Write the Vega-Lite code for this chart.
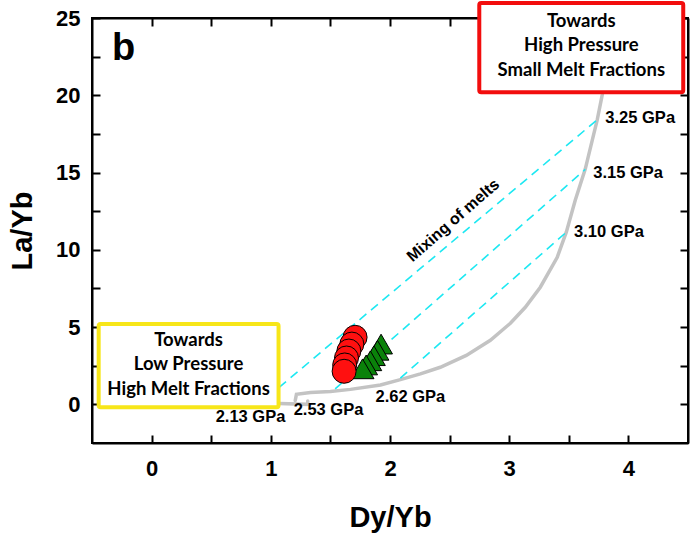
{
  "$schema": "https://vega.github.io/schema/vega-lite/v6.json",
  "width": 596,
  "height": 425,
  "autosize": "none",
  "padding": {"left": 92, "top": 18, "right": 6, "bottom": 91},
  "background": "white",
  "config": {
    "view": {"stroke": "black", "strokeWidth": 2},
    "axis": {
      "grid": false,
      "domainColor": "black",
      "domainWidth": 2,
      "labelFont": "Liberation Sans",
      "labelFontWeight": "bold",
      "labelFontSize": 22,
      "labelColor": "black",
      "titleFont": "Liberation Sans",
      "titleFontWeight": "bold",
      "titleFontSize": 29,
      "titleColor": "black"
    }
  },
  "data": {
    "values": [
      {"kind": "curve", "seg": 1, "i": 1, "x": 1.07, "y": 0.06},
      {"kind": "curve", "seg": 1, "i": 2, "x": 1.31, "y": 0.0},
      {"kind": "curve", "seg": 1, "i": 3, "x": 1.31, "y": 0.22},
      {"kind": "curve", "seg": 2, "i": 1, "x": 1.205, "y": 0.25},
      {"kind": "curve", "seg": 2, "i": 2, "x": 1.215, "y": 0.65},
      {"kind": "curve", "seg": 2, "i": 3, "x": 1.333, "y": 0.76},
      {"kind": "curve", "seg": 2, "i": 4, "x": 1.5, "y": 0.84},
      {"kind": "curve", "seg": 2, "i": 5, "x": 1.668, "y": 0.97},
      {"kind": "curve", "seg": 2, "i": 6, "x": 1.92, "y": 1.25},
      {"kind": "curve", "seg": 2, "i": 7, "x": 2.087, "y": 1.6},
      {"kind": "curve", "seg": 2, "i": 8, "x": 2.255, "y": 1.97},
      {"kind": "curve", "seg": 2, "i": 9, "x": 2.422, "y": 2.4},
      {"kind": "curve", "seg": 2, "i": 10, "x": 2.64, "y": 3.17},
      {"kind": "curve", "seg": 2, "i": 11, "x": 2.842, "y": 4.15},
      {"kind": "curve", "seg": 2, "i": 12, "x": 3.01, "y": 5.25},
      {"kind": "curve", "seg": 2, "i": 13, "x": 3.135, "y": 6.28},
      {"kind": "curve", "seg": 2, "i": 14, "x": 3.261, "y": 7.58},
      {"kind": "curve", "seg": 2, "i": 15, "x": 3.403, "y": 9.52},
      {"kind": "curve", "seg": 2, "i": 16, "x": 3.479, "y": 11.14},
      {"kind": "curve", "seg": 2, "i": 17, "x": 3.554, "y": 13.21},
      {"kind": "curve", "seg": 2, "i": 18, "x": 3.638, "y": 15.22},
      {"kind": "curve", "seg": 2, "i": 19, "x": 3.697, "y": 17.1},
      {"kind": "curve", "seg": 2, "i": 20, "x": 3.738, "y": 18.39},
      {"kind": "curve", "seg": 2, "i": 21, "x": 3.78, "y": 20.01},
      {"kind": "curve", "seg": 2, "i": 22, "x": 3.81, "y": 21.5},
      {"kind": "mixing", "seg": "A", "x": 1.07, "y": 1.1},
      {"kind": "mixing", "seg": "A", "x": 3.736, "y": 18.4},
      {"kind": "mixing", "seg": "B", "x": 1.54, "y": 1.0},
      {"kind": "mixing", "seg": "B", "x": 3.638, "y": 15.2},
      {"kind": "mixing", "seg": "C", "x": 2.087, "y": 1.7},
      {"kind": "mixing", "seg": "C", "x": 3.479, "y": 11.14},
      {"kind": "box", "seg": "high", "x": 2.749, "x2": 4.46, "y": 25.97, "y2": 20.2},
      {"kind": "box", "seg": "low", "x": -0.444, "x2": 1.065, "y": 5.2, "y2": -0.19},
      {"kind": "boxtext", "x": 3.605, "y": 24.8, "text": "Towards"},
      {"kind": "boxtext", "x": 3.605, "y": 23.25, "text": "High Pressure"},
      {"kind": "boxtext", "x": 3.605, "y": 21.65, "text": "Small Melt Fractions"},
      {"kind": "boxtext", "x": 0.31, "y": 4.15, "text": "Towards"},
      {"kind": "boxtext", "x": 0.31, "y": 2.6, "text": "Low Pressure"},
      {"kind": "boxtext", "x": 0.31, "y": 0.97, "text": "High Melt Fractions"},
      {"kind": "triangle", "x": 1.925, "y": 3.9},
      {"kind": "triangle", "x": 1.895, "y": 3.5},
      {"kind": "triangle", "x": 1.865, "y": 3.15},
      {"kind": "triangle", "x": 1.835, "y": 2.82},
      {"kind": "triangle", "x": 1.8, "y": 2.55},
      {"kind": "triangle", "x": 1.77, "y": 2.3},
      {"kind": "circle", "x": 1.707, "y": 4.34},
      {"kind": "circle", "x": 1.68, "y": 3.9},
      {"kind": "circle", "x": 1.655, "y": 3.45},
      {"kind": "circle", "x": 1.635, "y": 3.0},
      {"kind": "circle", "x": 1.62, "y": 2.55},
      {"kind": "circle", "x": 1.615, "y": 2.14},
      {"kind": "pressure", "x": 0.83, "y": -0.84, "text": "2.13 GPa"},
      {"kind": "pressure", "x": 1.484, "y": -0.39, "text": "2.53 GPa"},
      {"kind": "pressure", "x": 2.171, "y": 0.45, "text": "2.62 GPa"},
      {"kind": "pressure", "x": 4.099, "y": 18.5, "text": "3.25 GPa"},
      {"kind": "pressure", "x": 3.998, "y": 14.94, "text": "3.15 GPa"},
      {"kind": "pressure", "x": 3.837, "y": 11.16, "text": "3.10 GPa"},
      {"kind": "mixlabel", "x": 2.53, "y": 11.9, "text": "Mixing of melts"},
      {"kind": "panel", "x": -0.235, "y": 23.0, "text": "b"}
    ]
  },
  "layer": [
    {
      "transform": [{"filter": "datum.kind === 'curve'"}],
      "mark": {"type": "line", "color": "#c3c3c3", "strokeWidth": 3.5, "strokeCap": "round"},
      "encoding": {
        "x": {
          "field": "x", "type": "quantitative",
          "scale": {"domain": [-0.5, 4.5], "nice": false, "zero": false},
          "axis": {
            "orient": "bottom",
            "title": "Dy/Yb",
            "values": [0, 0.5, 1, 1.5, 2, 2.5, 3, 3.5, 4],
            "labelExpr": "datum.value % 1 === 0 ? format(datum.value, 'd') : ''",
            "tickColor": "black",
            "tickWidth": 2,
            "tickSize": -8,
            "labelPadding": 23,
            "titlePadding": 24
          }
        },
        "y": {
          "field": "y", "type": "quantitative",
          "scale": {"domain": [-2.5, 25], "nice": false, "zero": false},
          "axis": {
            "orient": "left",
            "title": "La/Yb",
            "values": [0, 2.5, 5, 7.5, 10, 12.5, 15, 17.5, 20, 22.5, 25],
            "labelExpr": "datum.value % 5 === 0 ? format(datum.value, 'd') : ''",
            "tickColor": "black",
            "tickWidth": 2,
            "tickSize": -8,
            "labelPadding": 20,
            "titlePadding": 18
          }
        },
        "detail": {"field": "seg"},
        "order": {"field": "i"}
      }
    },
    {
      "transform": [{"filter": "datum.kind === 'mixing'"}],
      "mark": {"type": "line", "color": "#1de8f2", "strokeWidth": 1.6, "strokeDash": [9, 6]},
      "encoding": {
        "x": {"field": "x", "type": "quantitative", "axis": {"orient": "top", "title": null, "labels": false, "tickColor": "black", "tickWidth": 2, "tickSize": -8, "values": [0, 0.5, 1, 1.5, 2, 2.5, 3, 3.5, 4]}},
        "y": {"field": "y", "type": "quantitative", "axis": {"orient": "right", "title": null, "labels": false, "tickColor": "black", "tickWidth": 2, "tickSize": -8, "values": [0, 2.5, 5, 7.5, 10, 12.5, 15, 17.5, 20, 22.5, 25]}},
        "detail": {"field": "seg"}
      }
    },
    {
      "transform": [{"filter": "datum.kind === 'box'"}],
      "mark": {"type": "rect", "fill": "white", "strokeWidth": 4, "cornerRadius": 2},
      "encoding": {
        "x": {"field": "x", "type": "quantitative", "axis": null},
        "x2": {"field": "x2"},
        "y": {"field": "y", "type": "quantitative", "axis": null},
        "y2": {"field": "y2"},
        "stroke": {
          "field": "seg", "type": "nominal",
          "scale": {"domain": ["high", "low"], "range": ["#f20d0d", "#f7e619"]},
          "legend": null
        }
      }
    },
    {
      "transform": [{"filter": "datum.kind === 'boxtext'"}],
      "mark": {"type": "text", "font": "Lato", "fontWeight": "bold", "fontSize": 18.5, "color": "black", "baseline": "middle"},
      "encoding": {
        "x": {"field": "x", "type": "quantitative", "axis": null},
        "y": {"field": "y", "type": "quantitative", "axis": null},
        "text": {"field": "text"}
      }
    },
    {
      "transform": [{"filter": "datum.kind === 'triangle'"}],
      "mark": {"type": "point", "shape": "triangle-up", "filled": true, "size": 520, "color": "#0a820a", "stroke": "black", "strokeWidth": 1, "opacity": 1},
      "encoding": {
        "x": {"field": "x", "type": "quantitative", "axis": null},
        "y": {"field": "y", "type": "quantitative", "axis": null}
      }
    },
    {
      "transform": [{"filter": "datum.kind === 'circle'"}],
      "mark": {"type": "point", "shape": "circle", "filled": true, "size": 576, "color": "#ff1010", "stroke": "black", "strokeWidth": 1, "opacity": 1},
      "encoding": {
        "x": {"field": "x", "type": "quantitative", "axis": null},
        "y": {"field": "y", "type": "quantitative", "axis": null}
      }
    },
    {
      "transform": [{"filter": "datum.kind === 'pressure'"}],
      "mark": {"type": "text", "font": "Liberation Sans", "fontWeight": "bold", "fontSize": 16.5, "color": "black", "baseline": "middle"},
      "encoding": {
        "x": {"field": "x", "type": "quantitative", "axis": null},
        "y": {"field": "y", "type": "quantitative", "axis": null},
        "text": {"field": "text"}
      }
    },
    {
      "transform": [{"filter": "datum.kind === 'mixlabel'"}],
      "mark": {"type": "text", "font": "Liberation Sans", "fontWeight": "bold", "fontSize": 16, "color": "black", "baseline": "middle", "angle": -41},
      "encoding": {
        "x": {"field": "x", "type": "quantitative", "axis": null},
        "y": {"field": "y", "type": "quantitative", "axis": null},
        "text": {"field": "text"}
      }
    },
    {
      "transform": [{"filter": "datum.kind === 'panel'"}],
      "mark": {"type": "text", "font": "Liberation Sans", "fontWeight": "bold", "fontSize": 38, "color": "black", "baseline": "middle"},
      "encoding": {
        "x": {"field": "x", "type": "quantitative", "axis": null},
        "y": {"field": "y", "type": "quantitative", "axis": null},
        "text": {"field": "text"}
      }
    }
  ]
}
